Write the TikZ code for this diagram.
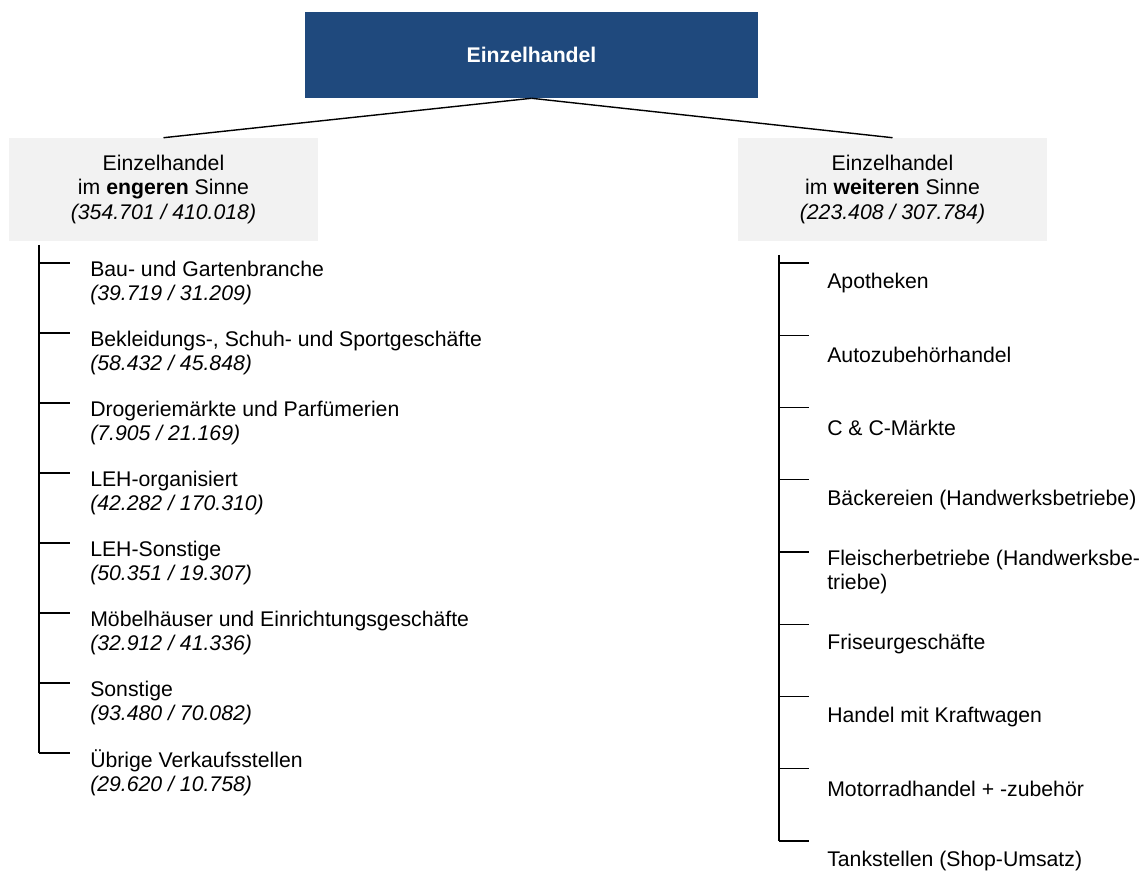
\documentclass[tikz,border=0pt]{standalone}
\usepackage{fontspec}
\setmainfont{Liberation Sans}
\usepackage{xcolor}
\usepackage{tikz}
\usetikzlibrary{positioning}
\definecolor{retailblue}{HTML}{1F497D}
\definecolor{panelgrey}{HTML}{F2F2F2}

\begin{document}
\begin{tikzpicture}[font=\fontsize{15.1pt}{17.4pt}\selectfont]
    \tikzstyle{headbox} = [rectangle, minimum width=11.325cm, minimum height=2.15cm,
      fill=retailblue, text=white, font=\fontsize{15.1pt}{17.4pt}\selectfont\bfseries]
    \tikzstyle{groupbox} = [rectangle, minimum width=7.725cm, minimum height=2.575cm,
      fill=panelgrey, align=center]
    \tikzstyle{leaf} = [align=left, inner sep=0pt]

    \useasboundingbox (0,0) rectangle (28.575,-21.775);

    % Layout: head on top, two groups below, one list under each group
    \node (retail) [headbox]  at (13.2875,-1.375) {Einzelhandel};
    \node (narrow) [groupbox] at (4.0875,-4.7375)
      {Einzelhandel\\im \textbf{engeren} Sinne\\\textit{(354.701 / 410.018)}};
    \node (wide)   [groupbox] at (22.3125,-4.7375)
      {Einzelhandel\\im \textbf{weiteren} Sinne\\\textit{(223.408 / 307.784)}};

    % head -> groups
    \draw [line width=1pt] (retail.south) -- (narrow.north);
    \draw [line width=1pt] (retail.south) -- (wide.north);

    % branch points, engeren Sinne
    \coordinate (ltop) at (0.975,-6.125);
    \coordinate (l1) at (0.975,-6.575);
    \coordinate (l2) at (0.975,-8.325);
    \coordinate (l3) at (0.975,-10.075);
    \coordinate (l4) at (0.975,-11.825);
    \coordinate (l5) at (0.975,-13.575);
    \coordinate (l6) at (0.975,-15.325);
    \coordinate (l7) at (0.975,-17.075);
    \coordinate (l8) at (0.975,-18.825);

    % branch points, weiteren Sinne
    \coordinate (rtop) at (19.475,-6.375);
    \coordinate (r1) at (19.475,-6.575);
    \coordinate (r2) at (19.475,-8.381);
    \coordinate (r3) at (19.475,-10.188);
    \coordinate (r4) at (19.475,-11.994);
    \coordinate (r5) at (19.475,-13.8);
    \coordinate (r6) at (19.475,-15.606);
    \coordinate (r7) at (19.475,-17.413);
    \coordinate (r8) at (19.475,-19.219);
    \coordinate (r9) at (19.475,-21.025);

    % list engeren Sinne
    \node (bau)      [leaf, right=1.275cm of l1, yshift=-0.5cm]
      {Bau- und Gartenbranche\\\textit{(39.719 / 31.209)}};
    \node (kleidung) [leaf, right=1.275cm of l2, yshift=-0.5cm]
      {Bekleidungs-, Schuh- und Sportgeschäfte\\\textit{(58.432 / 45.848)}};
    \node (drogerie) [leaf, right=1.275cm of l3, yshift=-0.5cm]
      {Drogeriemärkte und Parfümerien\\\textit{(7.905 / 21.169)}};
    \node (lehorg)   [leaf, right=1.275cm of l4, yshift=-0.5cm]
      {LEH-organisiert\\\textit{(42.282 / 170.310)}};
    \node (lehsonst) [leaf, right=1.275cm of l5, yshift=-0.5cm]
      {LEH-Sonstige\\\textit{(50.351 / 19.307)}};
    \node (moebel)   [leaf, right=1.275cm of l6, yshift=-0.5cm]
      {Möbelhäuser und Einrichtungsgeschäfte\\\textit{(32.912 / 41.336)}};
    \node (sonstige) [leaf, right=1.275cm of l7, yshift=-0.5cm]
      {Sonstige\\\textit{(93.480 / 70.082)}};
    \node (uebrige)  [leaf, right=1.275cm of l8, yshift=-0.5cm]
      {Übrige Verkaufsstellen\\\textit{(29.620 / 10.758)}};

    % list weiteren Sinne
    \node (apotheken)   [leaf, right=1.2cm of r1, yshift=-0.5cm] {Apotheken};
    \node (autoteile)   [leaf, right=1.2cm of r2, yshift=-0.5cm] {Autozubehörhandel};
    \node (cundc)       [leaf, right=1.2cm of r3, yshift=-0.5cm] {C \& C-Märkte};
    \node (baecker)     [leaf, right=1.2cm of r4, yshift=-0.5cm] {Bäckereien (Handwerksbetriebe)};
    \node (fleischer)   [leaf, right=1.2cm of r5, yshift=-0.5cm]
      {Fleischerbetriebe (Handwerksbe-\\triebe)};
    \node (friseur)     [leaf, right=1.2cm of r6, yshift=-0.5cm] {Friseurgeschäfte};
    \node (kfz)         [leaf, right=1.2cm of r7, yshift=-0.5cm] {Handel mit Kraftwagen};
    \node (motorrad)    [leaf, right=1.2cm of r8, yshift=-0.5cm] {Motorradhandel + -zubehör};
    \node (tankstellen) [leaf, right=1.2cm of r9, yshift=-0.5cm] {Tankstellen (Shop-Umsatz)};

    % spines and branches
    \draw [line width=1pt] (ltop) -- (l8);
    \draw [line width=1pt] (l1) -- ++(0.775,0) (l2) -- ++(0.775,0) (l3) -- ++(0.775,0)
      (l4) -- ++(0.775,0) (l5) -- ++(0.775,0) (l6) -- ++(0.775,0) (l7) -- ++(0.775,0)
      (l8) -- ++(0.775,0);
    \draw [line width=1pt] (rtop) -- (r9);
    \draw [line width=1pt] (r1) -- ++(0.75,0) (r2) -- ++(0.75,0) (r3) -- ++(0.75,0)
      (r4) -- ++(0.75,0) (r5) -- ++(0.75,0) (r6) -- ++(0.75,0) (r7) -- ++(0.75,0)
      (r8) -- ++(0.75,0) (r9) -- ++(0.75,0);
\end{tikzpicture}
\end{document}
